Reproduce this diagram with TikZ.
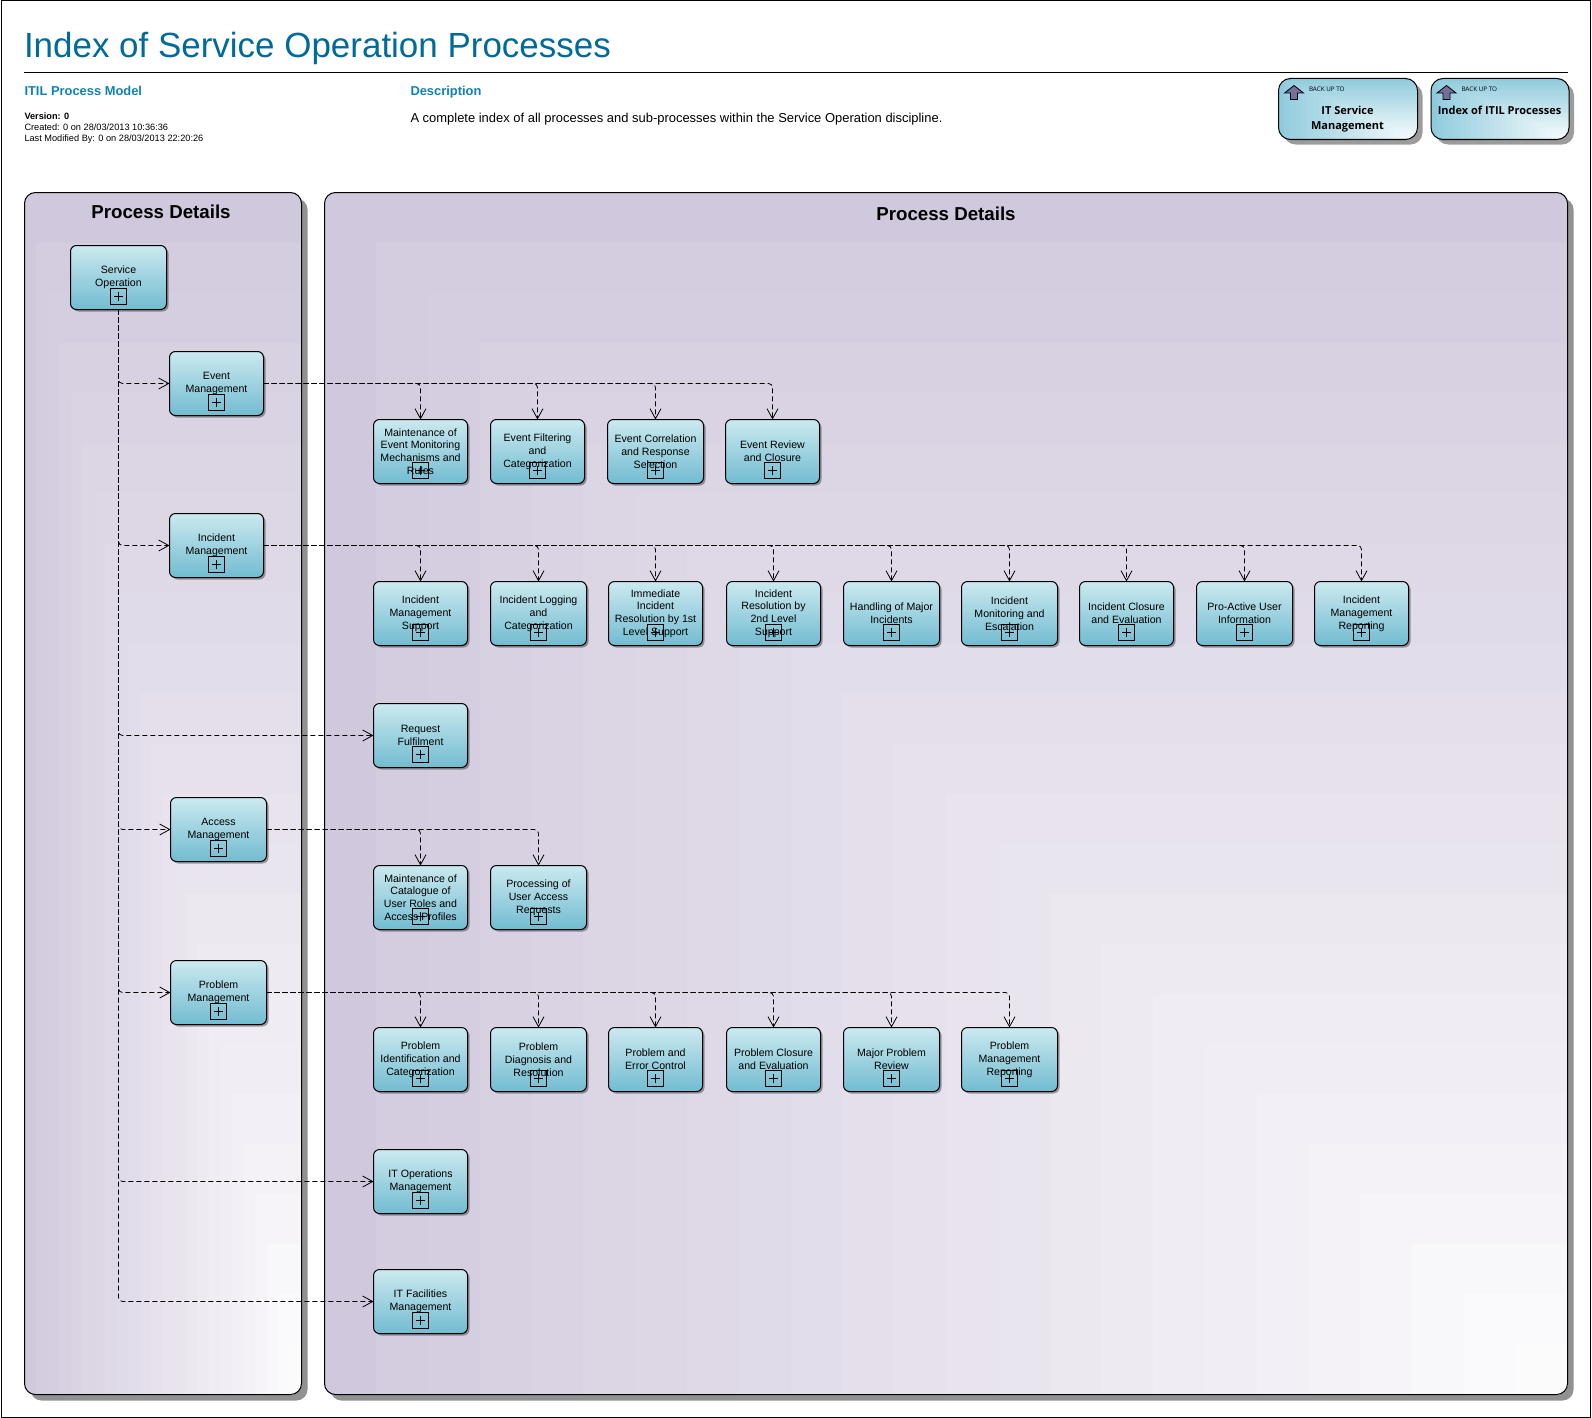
\documentclass[tikz,border=0pt]{standalone}
\usepackage{fontspec}
\setmainfont{Liberation Sans}
\newfontfamily\backfont{Open Sans}
\usetikzlibrary{arrows.meta,calc,shadows}
\definecolor{titleblue}{HTML}{006A9A}
\definecolor{headblue}{HTML}{0E82B8}
\definecolor{boxtop}{HTML}{CBE9EF}
\definecolor{boxbottom}{HTML}{72BCD1}
\definecolor{pnlfrom}{HTML}{D0C8DC}
\definecolor{backfrom}{HTML}{8CCADC}
\definecolor{shadegray}{HTML}{919191}
\definecolor{upfill}{HTML}{75709A}
\tikzset{
  x=1pt, y=-1pt, outer sep=0pt,
  stepfill/.style={path picture={
    \fill[#1, sharp corners] (path picture bounding box.north west) rectangle (path picture bounding box.south east);
    \foreach \i [evaluate=\i as \t using {\i/24}, evaluate=\i as \pct using {100*(1-(.04+.92*\i/24))}] in {1,...,23}
      \fill[#1!\pct!white, sharp corners] ($(path picture bounding box.north west)!\t!(path picture bounding box.south east)$) rectangle (path picture bounding box.south east);
  }},
  panel/.style={draw, line width=1pt, rounded corners=11pt, stepfill=pnlfrom, minimum height=1202pt, inner sep=0pt,
    drop shadow={shadow xshift=6pt, shadow yshift=-6pt, fill=shadegray, opacity=1}},
  backbox/.style={draw, line width=1pt, rounded corners=12pt, stepfill=backfrom, minimum height=61pt, inner sep=0pt,
    drop shadow={shadow xshift=5pt, shadow yshift=-5pt, fill=shadegray, opacity=.9}},
  procbox/.style={draw, line width=1pt, rounded corners=6pt, top color=boxtop, bottom color=boxbottom,
    minimum width=94pt, minimum height=64pt, inner sep=0pt, align=center,
    font=\fontsize{10.6}{12.8}\selectfont,
    drop shadow={shadow xshift=2pt, shadow yshift=-2pt, fill=black, opacity=.35}},
  widebox/.style={procbox, minimum width=96pt},
  plusbox/.style={draw, line width=1pt, minimum size=16pt, inner sep=0pt, path picture={
    \draw[line width=1pt, sharp corners] ([xshift=-4.5pt]path picture bounding box.center) -- ([xshift=4.5pt]path picture bounding box.center);
    \draw[line width=1pt, sharp corners] ([yshift=-4.5pt]path picture bounding box.center) -- ([yshift=4.5pt]path picture bounding box.center);
  }},
  link/.style={line width=.8pt, dash pattern=on 5pt off 3pt, rounded corners=4pt,
    -{Straight Barb[length=10pt,width=11pt,line width=.8pt]}},
  pnlhead/.style={font=\fontsize{18.7}{22}\selectfont\bfseries, inner sep=0pt},
  infotext/.style={font=\fontsize{9.2}{11.2}\selectfont, inner sep=0pt, anchor=north west, align=left},
  subhead/.style={font=\fontsize{12.9}{15}\selectfont\bfseries, text=headblue, inner sep=0pt, anchor=west},
}
\begin{document}
\begin{tikzpicture}
\useasboundingbox (0,0) rectangle (1592,1418);
\draw[line width=1pt] (1.5,0.5) rectangle (1590.5,1417.5);
% header
\node[font=\fontsize{34.96}{40}\selectfont, text=titleblue, inner sep=0pt, anchor=base west] (title) at (24,58) {Index of Service Operation Processes};
\coordinate (rulea) at (24,72.5);
\coordinate (ruleb) at (1568,72.5);
\draw[line width=1pt] (rulea) -- (ruleb);
\node[subhead] (model) at (24.5,91) {ITIL Process Model};
\node[subhead] (descr) at (410.5,92) {Description};
\node[infotext] (info) at (24.5,112.5) {\textbf{Version: 0}\\Created: 0 on 28/03/2013 10:36:36\\Last Modified By: 0 on 28/03/2013 22:20:26};
\node[font=\fontsize{12.95}{15}\selectfont, inner sep=0pt, anchor=west] (desctext) at (410.5,119.5) {A complete index of all processes and sub-processes within the Service Operation discipline.};
% back up links
\node[backbox, minimum width=139pt] (back0) at (1348,109) {};
\node[backbox, minimum width=138pt] (back1) at (1500,109) {};
\foreach \n in {back0,back1}{
  \draw[line width=.8pt, fill=upfill] ([shift={(15.5pt,-7pt)}]\n.north west) -- ([shift={(25pt,-14.5pt)}]\n.north west) -- ([shift={(19pt,-14.5pt)}]\n.north west) -- ([shift={(19pt,-21pt)}]\n.north west) -- ([shift={(12pt,-21pt)}]\n.north west) -- ([shift={(12pt,-14.5pt)}]\n.north west) -- ([shift={(6pt,-14.5pt)}]\n.north west) -- cycle;
  \node[font=\backfont\fontsize{6.3}{8}\selectfont, inner sep=0pt, anchor=west] (\n-up) at ([shift={(30.5pt,-10.5pt)}]\n.north west) {BACK UP TO};
}
\node[font=\backfont\bfseries\fontsize{11}{15.6}\selectfont, inner sep=0pt, align=center] (back0-txt) at (1347.5,119) {IT Service\\Management};
\node[font=\backfont\bfseries\fontsize{11}{15.6}\selectfont, inner sep=0pt, align=center] (back1-txt) at (1499.5,110.5) {Index of ITIL Processes};
% panels
\node[panel, minimum width=277pt] (pnl0) at (163,793.5) {};
\node[panel, minimum width=1243pt] (pnl1) at (946,793.5) {};
\node[pnlhead] (pnl0-head) at (161,211.5) {Process Details};
\node[pnlhead] (pnl1-head) at (946,214) {Process Details};
% level one
\node[widebox] (so0) at (118.5,277.5) {Service\\Operation};
\node[procbox] (em0) at (216.5,383.5) {Event\\Management};
\node[procbox] (im0) at (216.5,545.5) {Incident\\Management};
\node[widebox] (am0) at (218.5,829.5) {Access\\Management};
\node[widebox] (pm0) at (218.5,992.5) {Problem\\Management};
\node[procbox] (rf0) at (420.5,735.5) {Request\\Fulfilment};
\node[procbox] (op0) at (420.5,1181.5) {IT Operations\\Management};
\node[procbox] (fm0) at (420.5,1301.5) {IT Facilities\\Management};
% event management
\node[procbox] (em1) at (420.5,451.5) {Maintenance of\\Event Monitoring\\Mechanisms and\\Rules};
\node[procbox] (em2) at (537.5,451.5) {Event Filtering\\and\\Categorization};
\node[widebox] (em3) at (655.5,451.5) {Event Correlation\\and Response\\Selection};
\node[procbox] (em4) at (772.5,451.5) {Event Review\\and Closure};
% incident management
\node[procbox] (im1) at (420.5,613.5) {Incident\\Management\\Support};
\node[widebox] (im2) at (538.5,613.5) {Incident Logging\\and\\Categorization};
\node[procbox] (im3) at (655.5,613.5) {Immediate\\Incident\\Resolution by 1st\\Level Support};
\node[procbox] (im4) at (773.5,613.5) {Incident\\Resolution by\\2nd Level\\Support};
\node[widebox] (im5) at (891.5,613.5) {Handling of Major\\Incidents};
\node[widebox] (im6) at (1009.5,613.5) {Incident\\Monitoring and\\Escalation};
\node[procbox] (im7) at (1126.5,613.5) {Incident Closure\\and Evaluation};
\node[widebox] (im8) at (1244.5,613.5) {Pro-Active User\\Information};
\node[procbox] (im9) at (1361.5,613.5) {Incident\\Management\\Reporting};
% access management
\node[procbox] (am1) at (420.5,897.5) {Maintenance of\\Catalogue of\\User Roles and\\Access Profiles};
\node[widebox] (am2) at (538.5,897.5) {Processing of\\User Access\\Requests};
% problem management
\node[procbox] (pm1) at (420.5,1059.5) {Problem\\Identification and\\Categorization};
\node[widebox] (pm2) at (538.5,1059.5) {Problem\\Diagnosis and\\Resolution};
\node[procbox] (pm3) at (655.5,1059.5) {Problem and\\Error Control};
\node[procbox] (pm4) at (773.5,1059.5) {Problem Closure\\and Evaluation};
\node[widebox] (pm5) at (891.5,1059.5) {Major Problem\\Review};
\node[widebox] (pm6) at (1009.5,1059.5) {Problem\\Management\\Reporting};
% collapsed markers
\foreach \n in {so0,em0,im0,am0,pm0,rf0,op0,fm0,em1,em2,em3,em4,im1,im2,im3,im4,im5,im6,im7,im8,im9,am1,am2,pm1,pm2,pm3,pm4,pm5,pm6}
  \node[plusbox] (\n-plus) at ([yshift=13pt]\n.south) {};
% connectors
\draw[link] (so0.south) |- (em0.west);
\draw[link] (so0.south) |- (im0.west);
\draw[link] (so0.south) |- (rf0.west);
\draw[link] (so0.south) |- (am0.west);
\draw[link] (so0.south) |- (pm0.west);
\draw[link] (so0.south) |- (op0.west);
\draw[link] (so0.south) |- (fm0.west);
\foreach \n in {1,...,4} \draw[link] (em0.east) -| (em\n.north);
\foreach \n in {1,...,9} \draw[link] (im0.east) -| (im\n.north);
\foreach \n in {1,2} \draw[link] (am0.east) -| (am\n.north);
\foreach \n in {1,...,6} \draw[link] (pm0.east) -| (pm\n.north);
\end{tikzpicture}
\end{document}
